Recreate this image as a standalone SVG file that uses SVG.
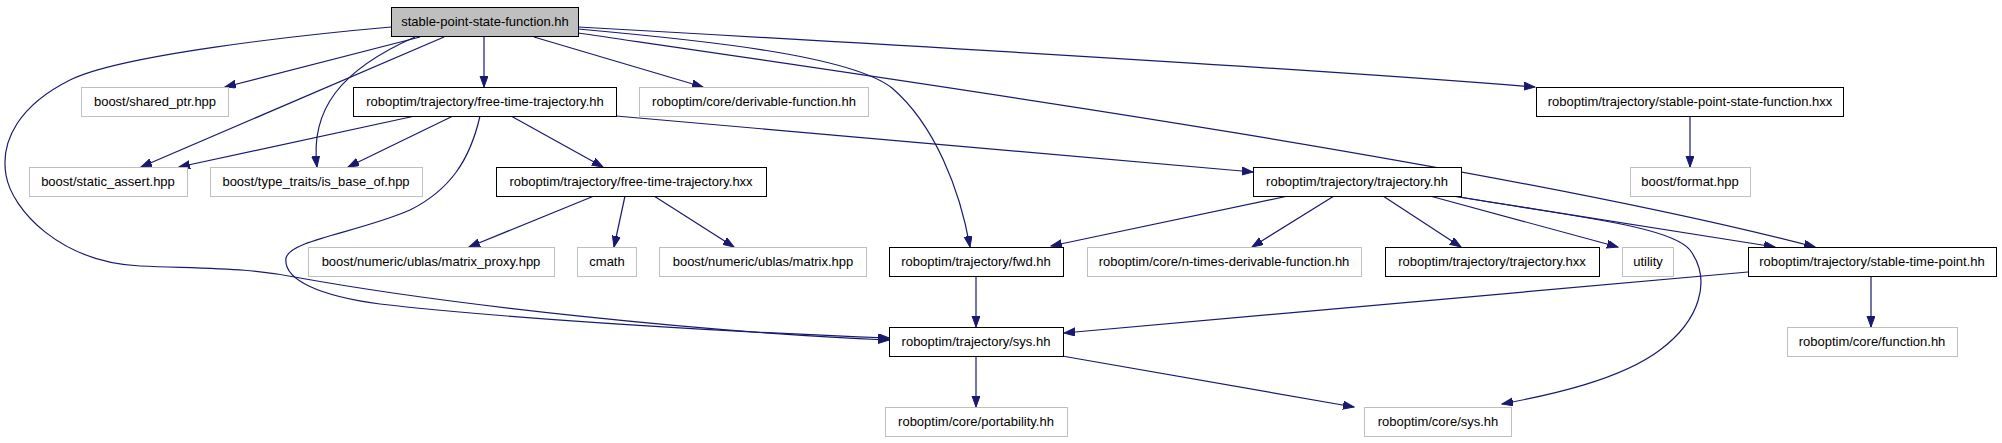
<svg xmlns="http://www.w3.org/2000/svg" width="2002" height="443" viewBox="0 0 2002 443">
<style>
rect{stroke-width:1}
.d{fill:#fff;stroke:#000}
.r{fill:#bfbfbf;stroke:#000}
.x{fill:#fff;stroke:#bfbfbf}
text{font-family:"Liberation Sans",Arial,sans-serif;font-size:13px;fill:#000;text-anchor:middle}
.e path{fill:none;stroke:#191970;stroke-width:1.2;marker-end:url(#a)}
</style>
<defs>
<marker id="a" markerWidth="12" markerHeight="9" refX="11" refY="4" orient="auto" markerUnits="userSpaceOnUse">
<path d="M0,0 L11,4 L0,8 z" fill="#191970" stroke="#191970" stroke-width="1"/>
</marker>
</defs>
<rect width="2002" height="443" fill="#fff"/>
<g class="e" id="edges">
<path d="M391,27 C300,35 120,55 70,80 C20,105 0,140 6,175 C12,210 60,262 140,266 C220,269 250,268 300,278 C450,305 700,332 889,340"/>
<path d="M420,37 L225,87"/>
<path d="M444,37 L141,167"/>
<path d="M415,37 C340,70 310,110 317,167"/>
<path d="M484,37 L484,87"/>
<path d="M534,37 L703,87"/>
<path d="M578,29 C700,40 850,55 892,88 C935,125 960,190 970,247"/>
<path d="M578,27 C900,45 1300,68 1535,87"/>
<path d="M578,33 C900,80 1500,165 1815,247"/>
<path d="M415,116 L179,167"/>
<path d="M453,116 L348,167"/>
<path d="M480,116 C470,160 450,190 410,210 C360,232 290,240 286,258 C283,280 320,296 380,304 C520,320 750,333 889,338"/>
<path d="M511,116 L603,167"/>
<path d="M616,116 L1253,172"/>
<path d="M594,196 L469,247"/>
<path d="M625,196 L614,247"/>
<path d="M654,196 L734,247"/>
<path d="M1288,196 L1051,246"/>
<path d="M1334,196 L1252,247"/>
<path d="M1383,196 L1461,247"/>
<path d="M1430,196 L1618,247"/>
<path d="M1452,196 L1775,247"/>
<path d="M1455,196 C1560,215 1670,225 1690,250 C1712,280 1700,320 1660,350 C1620,380 1550,395 1502,404"/>
<path d="M1748,272 L1064,333"/>
<path d="M1871,276 L1871,327"/>
<path d="M976,276 L976,327"/>
<path d="M976,356 L976,407"/>
<path d="M1062,356 L1354,407"/>
<path d="M1690,116 L1690,167"/>
</g>
<g id="n0"><rect class="r" x="391.5" y="7.5" width="187" height="29"/><text x="485" y="26">stable-point-state-function.hh</text></g>
<g id="n1"><rect class="x" x="81.5" y="87.5" width="147" height="29"/><text x="155" y="106">boost/shared_ptr.hpp</text></g>
<g id="n2"><rect class="d" x="353.5" y="87.5" width="263" height="29"/><text x="485" y="106">roboptim/trajectory/free-time-trajectory.hh</text></g>
<g id="n3"><rect class="x" x="639.5" y="87.5" width="229" height="29"/><text x="754" y="106">roboptim/core/derivable-function.hh</text></g>
<g id="n4"><rect class="d" x="1536.5" y="87.5" width="307" height="29"/><text x="1690" y="106">roboptim/trajectory/stable-point-state-function.hxx</text></g>
<g id="n5"><rect class="x" x="29.5" y="167.5" width="158" height="29"/><text x="108" y="186">boost/static_assert.hpp</text></g>
<g id="n6"><rect class="x" x="210.5" y="167.5" width="212" height="29"/><text x="316" y="186">boost/type_traits/is_base_of.hpp</text></g>
<g id="n7"><rect class="d" x="496.5" y="167.5" width="270" height="29"/><text x="631" y="186">roboptim/trajectory/free-time-trajectory.hxx</text></g>
<g id="n8"><rect class="d" x="1253.5" y="167.5" width="208" height="29"/><text x="1357" y="186">roboptim/trajectory/trajectory.hh</text></g>
<g id="n9"><rect class="x" x="1630.5" y="167.5" width="120" height="29"/><text x="1690" y="186">boost/format.hpp</text></g>
<g id="n10"><rect class="x" x="308.5" y="247.5" width="246" height="29"/><text x="431" y="266">boost/numeric/ublas/matrix_proxy.hpp</text></g>
<g id="n11"><rect class="x" x="577.5" y="247.5" width="59" height="29"/><text x="607" y="266">cmath</text></g>
<g id="n12"><rect class="x" x="659.5" y="247.5" width="207" height="29"/><text x="763" y="266">boost/numeric/ublas/matrix.hpp</text></g>
<g id="n13"><rect class="d" x="889.5" y="247.5" width="174" height="29"/><text x="976" y="266">roboptim/trajectory/fwd.hh</text></g>
<g id="n14"><rect class="x" x="1087.5" y="247.5" width="274" height="29"/><text x="1224" y="266">roboptim/core/n-times-derivable-function.hh</text></g>
<g id="n15"><rect class="d" x="1385.5" y="247.5" width="214" height="29"/><text x="1492" y="266">roboptim/trajectory/trajectory.hxx</text></g>
<g id="n16"><rect class="x" x="1622.5" y="247.5" width="51" height="29"/><text x="1648" y="266">utility</text></g>
<g id="n17"><rect class="d" x="1748.5" y="247.5" width="248" height="29"/><text x="1872" y="266">roboptim/trajectory/stable-time-point.hh</text></g>
<g id="n18"><rect class="d" x="889.5" y="327.5" width="174" height="29"/><text x="976" y="346">roboptim/trajectory/sys.hh</text></g>
<g id="n19"><rect class="x" x="1787.5" y="327.5" width="170" height="29"/><text x="1872" y="346">roboptim/core/function.hh</text></g>
<g id="n20"><rect class="x" x="885.5" y="407.5" width="182" height="29"/><text x="976" y="426">roboptim/core/portability.hh</text></g>
<g id="n21"><rect class="x" x="1364.5" y="407.5" width="147" height="29"/><text x="1438" y="426">roboptim/core/sys.hh</text></g>
</svg>
